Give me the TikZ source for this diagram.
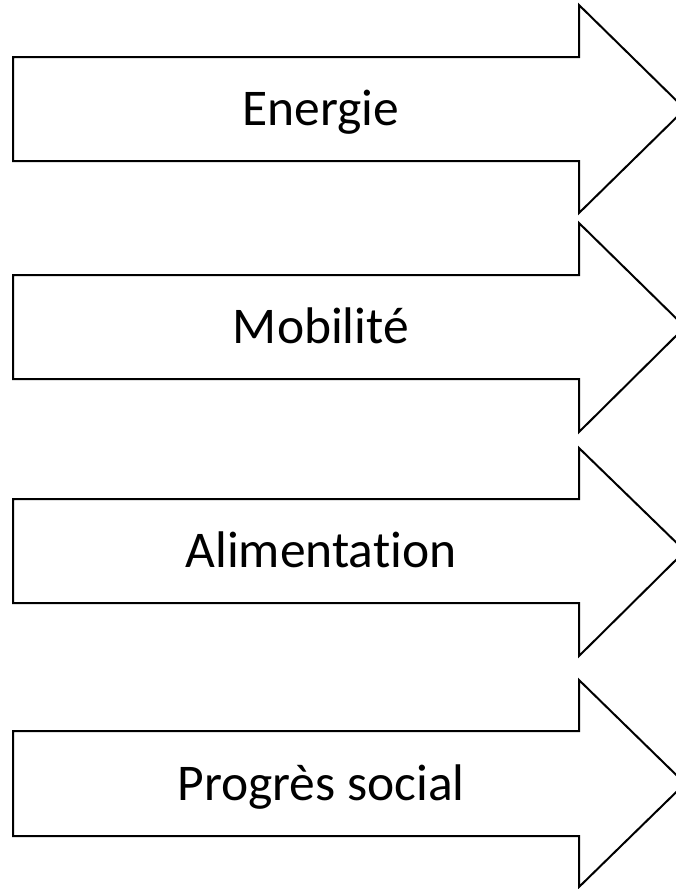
\documentclass[tikz,border=0pt]{standalone}
\usepackage{fontspec}
\setmainfont{Carlito}[Ligatures={NoCommon}]
\begin{document}
\begin{tikzpicture}[x=1pt,y=-1pt,
  arrowshape/.style={draw=black,fill=white,line width=2pt,line join=miter},
  label/.style={anchor=base,inner sep=0pt,font=\fontsize{51.5}{62}\selectfont}]
\useasboundingbox (0,0) rectangle (676,889);
\clip (0,0) rectangle (676,889);
% \bigarrow{body top}{body bottom}{head top}{head bottom}{name}{text}
\newcommand\bigarrow[6]{%
  \pgfmathsetmacro\midy{(#1+#2)/2}%
  \draw[arrowshape] (13,#1) -- (579,#1) -- (579,#3) -- (685,\midy)
    -- (579,#4) -- (579,#2) -- (13,#2) -- cycle;
  \node[label] (#5) at (321,\midy+16.5) {#6};}
\bigarrow{57}{161}{5}{213}{energie}{Energie}
\bigarrow{275}{379}{223}{432}{mobilite}{Mobilité}
\bigarrow{499}{603}{448}{656}{alimentation}{Alimentation}
\bigarrow{731}{836}{680}{887}{progres}{Progrès social}
\end{tikzpicture}
\end{document}
